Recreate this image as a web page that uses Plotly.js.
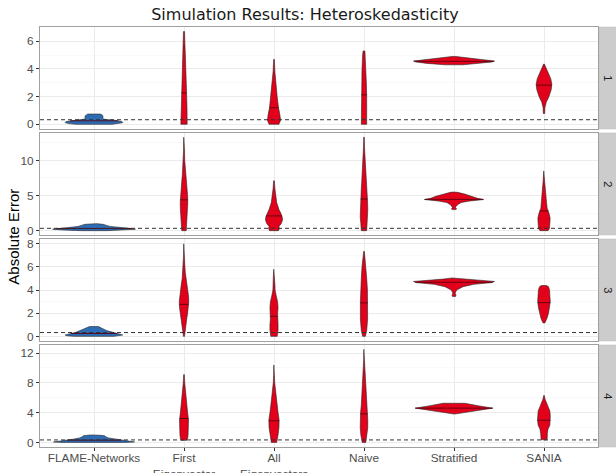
<!DOCTYPE html>
<html><head><meta charset="utf-8">
<script src="https://cdn.plot.ly/plotly-3.0.1.min.js"></script>
<style>html,body{margin:0;padding:0;background:#fff}#chart{width:616px;height:473px}</style>
</head><body><div id="chart"></div>
<script>
// ---- data ----
const categories = ['FLAME-Networks','First<br>Eigenvector','All<br>Eigenvectors','Naive','Stratified','SANIA'];
const panelLabels = ['1','2','3','4'];
const refLine = [0.33, 0.33, 0.33, 0.33];
const yRanges = [[-0.34, 7.03], [-0.62, 13.9], [-0.4, 8.42], [-0.62, 13.08]];
const yDticks = [2, 5, 2, 4];

// violin profiles: y levels and half-widths (category units), medians
const p1Y = [
  [0, 0.05, 0.12, 0.2, 0.28, 0.36, 0.42, 0.5, 0.6, 0.68, 0.74],
  [0, 0.5, 1, 2, 3, 4, 4.4, 5, 6, 6.7],
  [0, 0.3, 0.7, 1.2, 2, 3, 3.8, 4.69],
  [0, 1, 2, 3, 4, 5, 5.3],
  [4.3, 4.4, 4.5, 4.57, 4.65, 4.75, 4.85, 4.9],
  [0.78, 1.2, 1.6, 2.0, 2.5, 2.9, 3.3, 3.8, 4.2, 4.35]
];
const p1W = [
  [0.2, 0.28, 0.32, 0.31, 0.24, 0.12, 0.09, 0.1, 0.1, 0.09, 0.07],
  [0.035, 0.036, 0.034, 0.03, 0.026, 0.024, 0.024, 0.015, 0.009, 0.006],
  [0.055, 0.073, 0.065, 0.05, 0.035, 0.02, 0.01, 0.004],
  [0.03, 0.033, 0.03, 0.026, 0.022, 0.015, 0.01],
  [0.1, 0.3, 0.42, 0.45, 0.36, 0.2, 0.08, 0.02],
  [0.008, 0.01, 0.025, 0.055, 0.08, 0.087, 0.075, 0.045, 0.015, 0.004]
];
const p1Med = [0.25, 2.27, 1.2, 2.13, 4.55, 2.83];

const p2Y = [
  [0.0, 0.1, 0.2, 0.3, 0.45, 0.6, 0.75, 0.9, 1.0],
  [0, 1, 2, 3, 4, 5, 6, 7, 8, 9, 10, 11.5, 13.3],
  [0, 0.3, 0.6, 1.0, 1.5, 2.0, 2.5, 3.0, 4.0, 5.0, 6.0, 7.1],
  [0, 1, 2, 3, 4, 5, 6, 7, 8, 9, 10, 12, 13.3],
  [3.0, 3.1, 3.25, 3.4, 3.7, 4.0, 4.2, 4.43, 4.6, 4.9, 5.2, 5.45, 5.5],
  [0, 0.3, 1.0, 1.8, 2.5, 3.2, 4.0, 5.0, 6.0, 7.0, 8.5]
];
const p2W = [
  [0.15, 0.35, 0.46, 0.42, 0.28, 0.18, 0.14, 0.10, 0.03],
  [0.025, 0.03, 0.035, 0.04, 0.042, 0.04, 0.032, 0.025, 0.018, 0.012, 0.008, 0.005, 0.003],
  [0.05, 0.06, 0.055, 0.08, 0.095, 0.09, 0.075, 0.055, 0.03, 0.018, 0.01, 0.004],
  [0.03, 0.035, 0.042, 0.042, 0.04, 0.035, 0.03, 0.025, 0.02, 0.015, 0.01, 0.005, 0.003],
  [0.02, 0.03, 0.015, 0.02, 0.04, 0.08, 0.16, 0.33, 0.26, 0.2, 0.12, 0.04, 0.01],
  [0.045, 0.06, 0.065, 0.068, 0.055, 0.035, 0.028, 0.022, 0.016, 0.01, 0.003]
];
const p2Med = [0.3, 4.39, 2.1, 4.5, 4.45, 2.8];

const p3Y = [
  [0, 0.05, 0.12, 0.2, 0.35, 0.5, 0.65, 0.78, 0.85],
  [0, 0.5, 1, 1.5, 2, 2.5, 3, 3.5, 4, 4.5, 5, 5.5, 6, 7, 8],
  [0, 0.5, 1, 1.5, 2, 2.5, 3, 3.5, 4, 4.5, 5, 5.8],
  [0, 0.5, 1.5, 3, 4, 5, 6, 7, 7.35],
  [3.45, 3.5, 3.6, 3.75, 4.0, 4.3, 4.5, 4.65, 4.75, 4.85, 4.95, 5.05],
  [1.16, 1.3, 1.6, 2.0, 2.5, 3.0, 3.5, 4.0, 4.3, 4.39]
];
const p3W = [
  [0.22, 0.3, 0.32, 0.28, 0.2, 0.14, 0.1, 0.07, 0.05],
  [0.006, 0.012, 0.02, 0.03, 0.04, 0.05, 0.053, 0.05, 0.04, 0.03, 0.02, 0.015, 0.01, 0.005, 0.003],
  [0.035, 0.045, 0.045, 0.04, 0.04, 0.045, 0.04, 0.025, 0.012, 0.01, 0.008, 0.003],
  [0.015, 0.03, 0.04, 0.04, 0.038, 0.03, 0.022, 0.01, 0.004],
  [0.015, 0.022, 0.02, 0.012, 0.03, 0.1, 0.22, 0.42, 0.45, 0.3, 0.12, 0.02],
  [0.01, 0.02, 0.035, 0.05, 0.062, 0.07, 0.065, 0.062, 0.05, 0.03]
];
const p3Med = [0.25, 2.77, 1.73, 2.9, 4.68, 2.92];

const p4Y = [
  [0, 0.05, 0.15, 0.3, 0.45, 0.6, 0.75, 0.88, 0.95, 1.0],
  [0.27, 0.5, 1, 2, 3, 4, 5, 6, 7, 8, 9.1],
  [0, 0.5, 1, 2, 3, 4, 5, 6, 7, 8, 9, 10.4],
  [0, 1, 2, 3, 4, 5, 6, 7, 8, 9, 10, 11, 12.5],
  [3.8, 4.2, 4.6, 4.9, 5.15, 5.25],
  [0.35, 0.6, 1.2, 1.8, 2.3, 3.0, 3.6, 4.2, 4.8, 5.3, 5.8, 6.3]
];
const p4W = [
  [0.35, 0.45, 0.40, 0.3, 0.22, 0.16, 0.13, 0.12, 0.08, 0.03],
  [0.03, 0.04, 0.045, 0.05, 0.05, 0.04, 0.03, 0.02, 0.015, 0.008, 0.003],
  [0.03, 0.04, 0.045, 0.055, 0.057, 0.045, 0.035, 0.025, 0.015, 0.008, 0.004, 0.002],
  [0.02, 0.035, 0.042, 0.042, 0.038, 0.03, 0.025, 0.02, 0.015, 0.01, 0.007, 0.004, 0.002],
  [0.005, 0.2, 0.43, 0.28, 0.16, 0.12],
  [0.032, 0.036, 0.037, 0.045, 0.065, 0.072, 0.07, 0.065, 0.045, 0.025, 0.012, 0.003]
];
const p4Med = [0.3, 3.2, 2.9, 3.83, 4.6, 2.97];

const fillColors = ['#2D6CB5', '#E2001A', '#E2001A', '#E2001A', '#E2001A', '#E2001A'];

// ---- build ----
const allY = [p1Y, p2Y, p3Y, p4Y];
const allW = [p1W, p2W, p3W, p4W];
const allMed = [p1Med, p2Med, p3Med, p4Med];

function interp(v, ys, ws) {
  if (v <= ys[0]) return ws[0];
  for (let i = 1; i < ys.length; i++) {
    if (v <= ys[i]) {
      const t = (v - ys[i-1]) / (ys[i] - ys[i-1]);
      return ws[i-1] + t * (ws[i] - ws[i-1]);
    }
  }
  return ws[ws.length-1];
}

const gap = 0.0095;
const ph = (1 - 3 * gap) / 4;
const domains = [];
for (let p = 0; p < 4; p++) {
  const top = 1 - p * (ph + gap);
  domains.push([top - ph, top]);
}

const traces = [];
const shapes = [];
const annotations = [];
const tickFont = {family: 'Liberation Sans, Arial, sans-serif', size: 11.8, color: '#4D4D4D'};
const layout = {
  width: 616, height: 473,
  margin: {l: 40, r: 18, t: 27, b: 26},
  paper_bgcolor: '#fff', plot_bgcolor: '#fff',
  showlegend: false,
  font: {family: 'Liberation Sans, Arial, sans-serif', color: '#4D4D4D', size: 11.8},
  title: {text: 'Simulation Results: Heteroskedasticity', x: 0.495, xref: 'container', xanchor: 'center',
          y: 0.97, yref: 'container', yanchor: 'middle',
          font: {family: 'DejaVu Sans, sans-serif', size: 16, color: '#1A1A1A'}}
};

for (let p = 0; p < 4; p++) {
  const ax = p === 0 ? '' : String(p + 1);
  for (let c = 0; c < categories.length; c++) {
    const ys = allY[p][c], ws = allW[p][c];
    const xs = [], yy = [];
    for (let i = 0; i < ys.length; i++) { xs.push(c + 1 + ws[i]); yy.push(ys[i]); }
    for (let i = ys.length - 1; i >= 0; i--) { xs.push(c + 1 - ws[i]); yy.push(ys[i]); }
    xs.push(xs[0]); yy.push(yy[0]);
    traces.push({type: 'scatter', mode: 'lines', x: xs, y: yy, fill: 'toself',
      fillcolor: fillColors[c], line: {color: '#262626', width: 0.6},
      xaxis: 'x' + ax, yaxis: 'y' + ax, hoverinfo: 'skip'});
    const m = allMed[p][c];
    const hw = interp(m, ys, ws);
    traces.push({type: 'scatter', mode: 'lines', x: [c + 1 - hw, c + 1 + hw], y: [m, m],
      line: {color: '#5A0010', width: 0.9}, xaxis: 'x' + ax, yaxis: 'y' + ax, hoverinfo: 'skip'});
  }
  layout['xaxis' + ax] = {
    domain: [0, 1], anchor: 'y' + ax, range: [0.4, 6.6],
    tickmode: 'array', tickvals: [1, 2, 3, 4, 5, 6], ticktext: categories,
    showticklabels: p === 3, ticks: p === 3 ? 'outside' : '', ticklen: 3, tickcolor: '#333',
    ticklabelstandoff: -3,
    tickfont: tickFont,
    showgrid: true, gridcolor: '#EBEBEB', gridwidth: 1, zeroline: false,
    showline: true, mirror: true, linecolor: '#A0A0A0', linewidth: 1
  };
  layout['yaxis' + ax] = {
    domain: domains[p], anchor: 'x' + ax, range: yRanges[p],
    tickmode: 'linear', tick0: 0, dtick: yDticks[p],
    ticks: 'outside', ticklen: 3, tickcolor: '#333',
    tickfont: tickFont,
    showgrid: true, gridcolor: '#EBEBEB', gridwidth: 1, zeroline: false,
    minor: {dtick: yDticks[p] / 2, tick0: 0, showgrid: true, gridcolor: '#F5F5F5', gridwidth: 0.6, ticks: ''},
    showline: true, mirror: true, linecolor: '#A0A0A0', linewidth: 1
  };
  shapes.push({type: 'line', xref: 'x' + ax + ' domain', x0: 0, x1: 1, yref: 'y' + ax,
    y0: refLine[p], y1: refLine[p], line: {color: '#333', width: 1, dash: '4px,3px'}, layer: 'above'});
  // facet strip
  shapes.push({type: 'rect', xref: 'paper', yref: 'paper', x0: 1.0018, x1: 1.033,
    y0: domains[p][0], y1: domains[p][1], fillcolor: '#CCCCCC', line: {color: '#BDBDBD', width: 0.5}, layer: 'below'});
  annotations.push({xref: 'paper', yref: 'paper', x: 1.0175, y: (domains[p][0] + domains[p][1]) / 2,
    text: panelLabels[p], showarrow: false, textangle: 90, xanchor: 'center', yanchor: 'middle',
    font: {size: 11, color: '#1A1A1A'}});
}
annotations.push({xref: 'paper', yref: 'paper', x: -0.049, y: 0.5, text: 'Absolute Error',
  showarrow: false, textangle: -90, xanchor: 'center', yanchor: 'middle',
  font: {family: 'Liberation Sans, Arial, sans-serif', size: 15, color: '#000'}});
layout.shapes = shapes;
layout.annotations = annotations;

Plotly.newPlot('chart', traces, layout, {displayModeBar: false, staticPlot: true});
</script>
</body></html>
